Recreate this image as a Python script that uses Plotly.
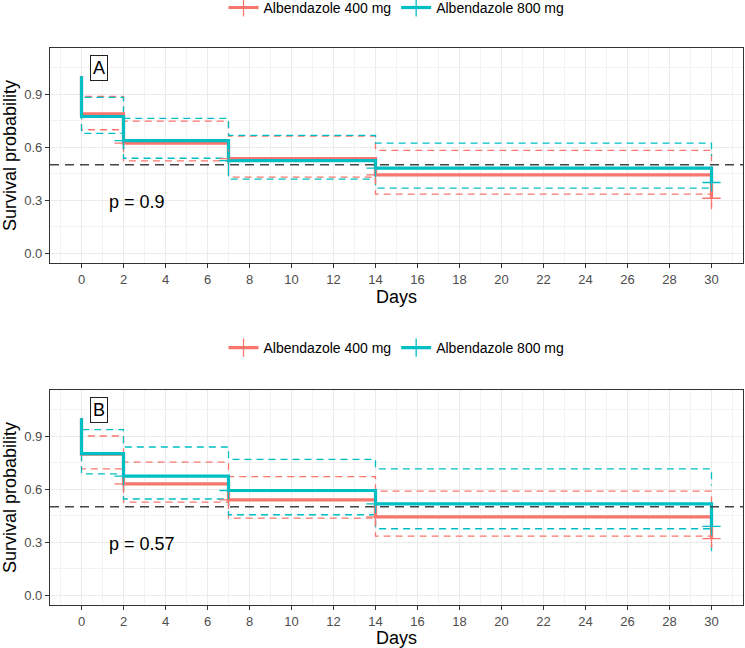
import plotly.graph_objects as go

# ---------------- data ----------------
groups = ["Albendazole 400 mg", "Albendazole 800 mg"]
colors = ["#F8766D", "#00BFC4"]

days = [0, 0, 2, 7, 14, 30, 30]
censor_days = [2, 7, 14, 30]

# Panel A
surv_a_400 = [1.0, 0.788, 0.622, 0.535, 0.443, 0.443, 0.311]
upper_a_400 = [1.0, 0.886, 0.747, 0.662, 0.581, 0.581, 0.45]
lower_a_400 = [1.0, 0.698, 0.522, 0.430, 0.334, 0.334, 0.235]
surv_a_800 = [1.0, 0.773, 0.637, 0.524, 0.481, 0.481, 0.400]
upper_a_800 = [1.0, 0.881, 0.762, 0.666, 0.622, 0.622, 0.55]
lower_a_800 = [1.0, 0.677, 0.537, 0.419, 0.368, 0.368, 0.32]
censor_a_400 = [0.622, 0.535, 0.443, 0.311]
censor_a_800 = [0.637, 0.524, 0.481, 0.400]
pval_a = "p = 0.9"

# Panel B
surv_b_400 = [1.0, 0.797, 0.630, 0.539, 0.443, 0.443, 0.320]
upper_b_400 = [1.0, 0.900, 0.752, 0.671, 0.588, 0.588, 0.46]
lower_b_400 = [1.0, 0.714, 0.526, 0.436, 0.334, 0.334, 0.27]
surv_b_800 = [1.0, 0.800, 0.673, 0.592, 0.517, 0.517, 0.389]
upper_b_800 = [1.0, 0.936, 0.838, 0.768, 0.714, 0.714, 0.62]
lower_b_800 = [1.0, 0.686, 0.544, 0.455, 0.376, 0.376, 0.235]
censor_b_400 = [0.630, 0.539, 0.443, 0.320]
censor_b_800 = [0.673, 0.592, 0.517, 0.389]
pval_b = "p = 0.57"

y_tickvals = [0.0, 0.3, 0.6, 0.9]
y_ticktext = ["0.0", "0.3", "0.6", "0.9"]
y_minor = [0.15, 0.45, 0.75, 1.05]
median_line = 0.5

FONT = "Liberation Sans, Arial, Helvetica, sans-serif"

fig = go.Figure()

panels = [
    dict(xa="x", ya="y", legend="legend", label="A", pval=pval_a,
         surv=[surv_a_400, surv_a_800], up=[upper_a_400, upper_a_800],
         lo=[lower_a_400, lower_a_800], cen=[censor_a_400, censor_a_800]),
    dict(xa="x2", ya="y2", legend="legend2", label="B", pval=pval_b,
         surv=[surv_b_400, surv_b_800], up=[upper_b_400, upper_b_800],
         lo=[lower_b_400, lower_b_800], cen=[censor_b_400, censor_b_800]),
]

for p in panels:
    # confidence interval step lines
    for i in range(2):
        for band in (p["up"][i], p["lo"][i]):
            fig.add_trace(go.Scatter(
                x=days, y=band, mode="lines", line_shape="hv",
                line=dict(color=colors[i], width=1.3, dash="7px,5px"),
                xaxis=p["xa"], yaxis=p["ya"], showlegend=False, hoverinfo="skip"))
    # survival curves
    for i in range(2):
        fig.add_trace(go.Scatter(
            x=days, y=p["surv"][i], mode="lines", line_shape="hv",
            line=dict(color=colors[i], width=3.2),
            xaxis=p["xa"], yaxis=p["ya"], showlegend=False))
    # censor marks
    for i in range(2):
        fig.add_trace(go.Scatter(
            x=censor_days, y=p["cen"][i], mode="markers",
            marker=dict(symbol="cross-thin", size=13,
                        line=dict(color=colors[i], width=1.3)),
            xaxis=p["xa"], yaxis=p["ya"], showlegend=False))
    # legend entries
    for i in range(2):
        fig.add_trace(go.Scatter(
            x=[None], y=[None], mode="lines+markers", name=groups[i],
            line=dict(color=colors[i], width=3.2),
            marker=dict(symbol="cross-thin", size=13,
                        line=dict(color=colors[i], width=1.3)),
            xaxis=p["xa"], yaxis=p["ya"], legend=p["legend"], showlegend=True))

    fig.add_shape(type="line", xref=p["xa"] + " domain", yref=p["ya"],
                  x0=0, x1=1, y0=median_line, y1=median_line,
                  line=dict(color="#444444", width=1.6, dash="9px,6px"))
    fig.add_annotation(x=0.81, y=1.047, xref=p["xa"], yref=p["ya"], text=p["label"],
                       showarrow=False, font=dict(size=18, color="black", family=FONT),
                       bordercolor="#222222", borderwidth=1, borderpad=2, bgcolor="white")
    fig.add_annotation(x=1.22, y=0.29, xref=p["xa"], yref=p["ya"], text=p["pval"],
                       showarrow=False, xanchor="left", yanchor="middle",
                       font=dict(size=18, color="black", family=FONT))


def xaxis(anchor):
    return dict(
        anchor=anchor, domain=[0, 1], range=[-1.5, 31.5],
        tickmode="linear", tick0=0, dtick=2,
        ticks="outside", ticklen=4, tickwidth=1, tickcolor="#333333",
        tickfont=dict(size=13, color="#4D4D4D", family=FONT),
        showgrid=True, gridcolor="#EBEBEB", gridwidth=1.1,
        minor=dict(tickmode="linear", tick0=1, dtick=2, showgrid=True,
                   gridcolor="#F2F2F2", gridwidth=0.6, ticks=""),
        showline=True, mirror=True, linecolor="#333333", linewidth=1.2,
        zeroline=False, automargin=False,
        title=dict(text="Days", font=dict(size=18, color="black", family=FONT), standoff=2),
    )


def yaxis(anchor, domain):
    return dict(
        anchor=anchor, domain=domain, range=[-0.055, 1.16],
        tickmode="array", tickvals=y_tickvals, ticktext=y_ticktext,
        ticks="outside", ticklen=4, tickwidth=1, tickcolor="#333333",
        tickfont=dict(size=13, color="#4D4D4D", family=FONT),
        showgrid=True, gridcolor="#EBEBEB", gridwidth=1.1,
        minor=dict(tickmode="array", tickvals=y_minor, showgrid=True,
                   gridcolor="#F2F2F2", gridwidth=0.6, ticks=""),
        showline=True, mirror=True, linecolor="#333333", linewidth=1.2,
        zeroline=False, automargin=False,
        title=dict(text="Survival probability", font=dict(size=18, color="black", family=FONT),
                   standoff=6),
    )


legend_common = dict(orientation="h", x=0.5, xanchor="center", yanchor="middle",
                     font=dict(size=14, color="black", family=FONT),
                     bgcolor="rgba(0,0,0,0)", itemwidth=30, tracegroupgap=0)

fig.update_layout(
    width=745, height=648,
    margin=dict(l=50, r=2, t=48, b=43, autoexpand=False),
    paper_bgcolor="white", plot_bgcolor="white",
    font=dict(family=FONT),
    xaxis=xaxis("y"), yaxis=yaxis("x", [0.614, 1.0]),
    xaxis2=xaxis("y2"), yaxis2=yaxis("x2", [0.0, 0.386]),
    legend=dict(legend_common, y=1.072),
    legend2=dict(legend_common, y=0.4614),
)

fig.write_html("out.html")
